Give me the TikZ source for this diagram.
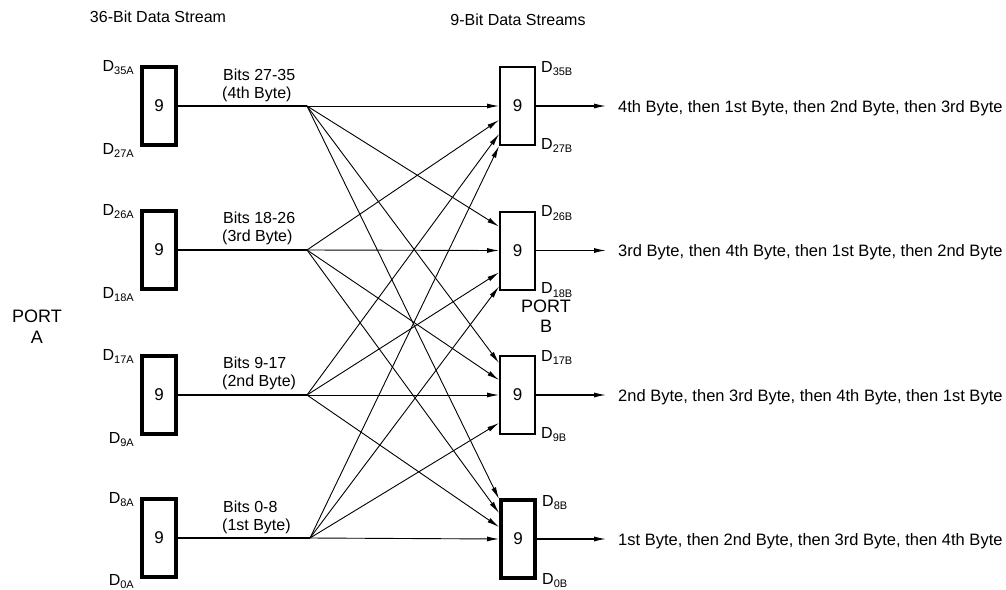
\documentclass[tikz,border=0pt]{standalone}
\usepackage{fontspec}
\setmainfont{Liberation Sans}
\usetikzlibrary{arrows.meta,calc}
\newcommand{\Dlab}[1]{D\raisebox{-3.5pt}{\fontsize{11}{12}\selectfont #1}}
\begin{document}
\begin{tikzpicture}[x=1pt,y=-1pt,
  txt/.style={font=\fontsize{16}{19}\selectfont, inner sep=0pt},
  outtxt/.style={font=\fontsize{16.5}{19}\selectfont, inner sep=0pt, anchor=base west},
  porttxt/.style={font=\fontsize{18}{20}\selectfont, inner sep=0pt, anchor=base},
  abox/.style={draw, line width=4pt, minimum width=34pt, minimum height=78pt, inner sep=0pt, font=\fontsize{17}{20}\selectfont},
  bbox/.style={draw, line width=2pt, minimum width=35pt, minimum height=78pt, inner sep=0pt, font=\fontsize{17}{20}\selectfont},
  feed/.style={line width=1.3pt},
  flow/.style={line width=0.9pt, -{Latex[length=12pt,width=5pt]}},
  outarr/.style={line width=1.1pt, -{Latex[length=12pt,width=5pt]}},
]
\useasboundingbox (0,0) rectangle (1006,589);

% headers
\node[txt, anchor=base] (h1) at (158,23) {36-Bit Data Stream};
\node[txt, anchor=base] (h2) at (518,25) {9-Bit Data Streams};

% port labels
\node[porttxt] (pa1) at (37,322) {PORT};
\node[porttxt] (pa2) at (37,343) {A};
\node[porttxt] (pb1) at (546,312) {PORT};
\node[porttxt] (pb2) at (546,332) {B};

% left boxes
\node[abox] (a1) at (159,106) {9};
\node[abox] (a2) at (159,250) {9};
\node[abox] (a3) at (159,395) {9};
\node[abox] (a4) at (159,538) {9};

% right boxes
\node[bbox] (b1) at (517.5,106) {9};
\node[bbox] (b2) at (517.5,250.5) {9};
\node[bbox] (b3) at (517.5,395) {9};
\node[abox] (b4) at (518,539) {9};

% D labels left
\node[txt, anchor=base east] (la1) at ($(a1.north west)+(-6,6)$) {\Dlab{35A}};
\node[txt, anchor=base east] (lb1) at ($(a1.south west)+(-6,7)$) {\Dlab{27A}};
\node[txt, anchor=base east] (la2) at ($(a2.north west)+(-6,6)$) {\Dlab{26A}};
\node[txt, anchor=base east] (lb2) at ($(a2.south west)+(-6,7)$) {\Dlab{18A}};
\node[txt, anchor=base east] (la3) at ($(a3.north west)+(-6,6)$) {\Dlab{17A}};
\node[txt, anchor=base east] (lb3) at ($(a3.south west)+(-6,7)$) {\Dlab{9A}};
\node[txt, anchor=base east] (la4) at ($(a4.north west)+(-6,6)$) {\Dlab{8A}};
\node[txt, anchor=base east] (lb4) at ($(a4.south west)+(-6,6)$) {\Dlab{0A}};

% D labels right
\node[txt, anchor=base west] (ra1) at ($(b1.north east)+(5,6)$) {\Dlab{35B}};
\node[txt, anchor=base west] (rb1) at ($(b1.south east)+(5,3)$) {\Dlab{27B}};
\node[txt, anchor=base west] (ra2) at ($(b2.north east)+(5,6)$) {\Dlab{26B}};
\node[txt, anchor=base west] (rb2) at ($(b2.south east)+(5,3)$) {\Dlab{18B}};
\node[txt, anchor=base west] (ra3) at ($(b3.north east)+(5,6)$) {\Dlab{17B}};
\node[txt, anchor=base west] (rb3) at ($(b3.south east)+(5,3)$) {\Dlab{9B}};
\node[txt, anchor=base west] (ra4) at ($(b4.north east)+(5,8)$) {\Dlab{8B}};
\node[txt, anchor=base west] (rb4) at ($(b4.south east)+(5,4)$) {\Dlab{0B}};

% fan-out points
\coordinate (f1) at (307,106);
\coordinate (f2) at (307,250);
\coordinate (f3) at (307,395);
\coordinate (f4) at (310,538);

% bit labels
\node[txt, anchor=base west] (bt1) at (223,80) {Bits 27-35};
\node[txt, anchor=base west] (bu1) at (222,98) {(4th Byte)};
\node[txt, anchor=base west] (bt2) at (223,223) {Bits 18-26};
\node[txt, anchor=base west] (bu2) at (222,241) {(3rd Byte)};
\node[txt, anchor=base west] (bt3) at (223,368) {Bits 9-17};
\node[txt, anchor=base west] (bu3) at (222,386) {(2nd Byte)};
\node[txt, anchor=base west] (bt4) at (223,512) {Bits 0-8};
\node[txt, anchor=base west] (bu4) at (222,530) {(1st Byte)};

% feed lines
\foreach \i in {1,2,3,4} \draw[feed] (a\i.east) -- (f\i);

% crossbar connections
\foreach \s/\d/\o in {1/1/0, 2/1/14, 3/1/28, 4/1/40,
                      1/2/-24, 2/2/0, 3/2/22, 4/2/36,
                      1/3/-32, 2/3/-15, 3/3/0, 4/3/28,
                      1/4/-40, 2/4/-26, 3/4/-12, 4/4/0}
  \draw[flow] (f\s) -- ($(b\d.west)+(0,\o)$);

% outputs
\coordinate (o1) at (606,106);
\coordinate (o2) at (606,250.5);
\coordinate (o3) at (606,395);
\coordinate (o4) at (606,539);
\foreach \i in {1,2,3,4} \draw[outarr] (b\i.east) -- (o\i);

\node[outtxt] (t1) at (618,112) {4th Byte, then 1st Byte, then 2nd Byte, then 3rd Byte};
\node[outtxt] (t2) at (618,256.5) {3rd Byte, then 4th Byte, then 1st Byte, then 2nd Byte};
\node[outtxt] (t3) at (618,401) {2nd Byte, then 3rd Byte, then 4th Byte, then 1st Byte};
\node[outtxt] (t4) at (618,545) {1st Byte, then 2nd Byte, then 3rd Byte, then 4th Byte};
\end{tikzpicture}
\end{document}
